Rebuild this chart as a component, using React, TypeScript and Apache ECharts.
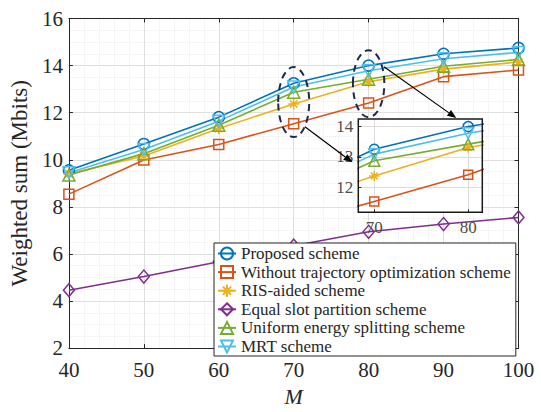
import React, { useEffect, useRef } from 'react';
import * as echarts from 'echarts';

// ---- data ----
const mValues = [40, 50, 60, 70, 80, 90, 100];
const proposed = [9.55, 10.67, 11.81, 13.25, 14.0, 14.5, 14.75];
const withoutTraj = [8.54, 9.99, 10.65, 11.53, 12.41, 13.53, 13.81];
const risAided = [9.4, 10.16, 11.33, 12.37, 13.31, 13.85, 14.15];
const equalSlot = [4.46, 5.04, 5.67, 6.35, 6.94, 7.27, 7.55];
const uniformEnergy = [9.35, 10.26, 11.47, 12.87, 13.42, 13.97, 14.26];
const mrt = [9.45, 10.44, 11.64, 13.09, 13.78, 14.29, 14.56];

const seriesNames = [
  'Proposed scheme',
  'Without trajectory optimization scheme',
  'RIS-aided scheme',
  'Equal slot partition scheme',
  'Uniform energy splitting scheme',
  'MRT scheme',
];

const xTicks = { min: 40, max: 100, interval: 10 };
const yTicks = { min: 2, max: 16, interval: 2 };
const insetX = { min: 68.3, max: 81.5, labels: [70, 80] };
const insetY = { min: 11.17, max: 14.25, labels: [12, 13, 14] };

// annotations (data coords)
const ellipses = [
  { x: 70, y: 12.45, rx: 15.5, ry: 35 },
  { x: 80, y: 13.23, rx: 15.7, ry: 33.5 },
];
const arrows = [
  { from: [71.5, 11.4], to: [77.85, 9.89] },
  { from: [82.05, 13.95], to: [91.7, 11.77] },
];

const COLORS = ['#0072BD', '#D95319', '#EDB120', '#7E2F8E', '#77AC30', '#4DBEEE'];
const ASTERISK = 'path://M5,0L5,10M0,5L10,5M1.6,1.6L8.4,8.4M1.6,8.4L8.4,1.6';
const SYMBOLS: any[] = [
  { symbol: 'circle', size: 11, rotate: 0 },
  { symbol: 'rect', size: 10, rotate: 0 },
  { symbol: ASTERISK, size: 11, rotate: 0 },
  { symbol: 'diamond', size: [11, 13], rotate: 0 },
  { symbol: 'triangle', size: 12, rotate: 0 },
  { symbol: 'triangle', size: 12, rotate: 180 },
];
const allValues = [proposed, withoutTraj, risAided, equalSlot, uniformEnergy, mrt];

const FONT = 'Liberation Serif';
const TXT = '#262626';

function makeSeries(i: number, inset: boolean) {
  const s = SYMBOLS[i];
  const c = COLORS[i];
  return {
    type: 'line',
    name: seriesNames[i],
    xAxisIndex: inset ? 2 : 0,
    yAxisIndex: inset ? 2 : 0,
    data: mValues.map((m, k) => [m, allValues[i][k]]),
    symbol: s.symbol,
    symbolSize: inset ? (Array.isArray(s.size) ? [10, 12] : s.size - 1) : s.size,
    symbolRotate: s.rotate,
    showAllSymbol: true,
    clip: true,
    z: inset ? 6 : 2,
    lineStyle: { color: c, width: 1.6 },
    itemStyle: { color: 'none', borderColor: c, borderWidth: 1.5 },
    emphasis: { disabled: true },
  };
}

export default function App() {
  const ref = useRef<HTMLDivElement>(null);
  useEffect(() => {
    if (!ref.current) return;
    const chart = echarts.init(ref.current, undefined, { renderer: 'svg' });
    const mainGrid = { left: 66.7, right: 22.5, top: 18.5, bottom: 54 };
    const insetGrid = { left: 358.3, top: 119, width: 124, height: 93.3 };
    const series: any[] = [];
    for (let i = 0; i < 6; i++) series.push(makeSeries(i, false));
    for (let i = 0; i < 6; i++) {
      if (i === 3) continue;
      series.push(makeSeries(i, true));
    }
    const firstInset = series[6];
    firstInset.markLine = {
      silent: true,
      symbol: 'none',
      z: 5,
      label: { show: false },
      lineStyle: { color: '#dcdcdc', type: 'solid', width: 1 },
      data: [
        ...insetX.labels.map((v) => ({ xAxis: v })),
        ...insetY.labels.map((v) => ({ yAxis: v })),
      ],
    };

    const option: any = {
      animation: false,
      backgroundColor: '#ffffff',
      textStyle: { fontFamily: FONT },
      grid: [
        { ...mainGrid, containLabel: false },
        { ...insetGrid, containLabel: false },
      ],
      legend: {
        data: seriesNames,
        orient: 'vertical',
        left: 214,
        top: 243,
        z: 20,
        itemWidth: 18,
        itemHeight: 15,
        itemGap: 1.6,
        padding: [2, 5, 1, 3],
        backgroundColor: '#ffffff',
        borderColor: '#262626',
        borderWidth: 1,
        borderRadius: 0,
        selectedMode: false,
        textStyle: { fontFamily: FONT, fontSize: 17, color: TXT, lineHeight: 15 },
      },
      xAxis: [
        {
          type: 'value', gridIndex: 0, ...xTicks,
          name: 'M', nameLocation: 'middle', nameGap: 31,
          nameTextStyle: { fontFamily: FONT, fontSize: 22, fontStyle: 'italic', color: TXT },
          axisLine: { show: true, onZero: false, lineStyle: { color: TXT, width: 1 } },
          axisTick: { show: true, inside: true, length: 4, lineStyle: { color: TXT } },
          axisLabel: { fontFamily: FONT, fontSize: 21, color: TXT, margin: 11 },
          splitLine: { show: true, lineStyle: { color: '#dfdfdf', width: 1 } },
          minorTick: { show: false, splitNumber: 5 },
          minorSplitLine: { show: true, lineStyle: { color: '#ececec', width: 1, type: 'dotted' } },
        },
        {
          type: 'value', gridIndex: 0, ...xTicks, position: 'top',
          axisLine: { show: true, onZero: false, lineStyle: { color: TXT, width: 1 } },
          axisTick: { show: true, inside: true, length: 4, lineStyle: { color: TXT } },
          axisLabel: { show: false },
          splitLine: { show: false },
        },
        {
          type: 'value', gridIndex: 1, min: insetX.min, max: insetX.max, z: 7,
          axisLine: { show: false },
          axisTick: { show: true, inside: true, length: 3, customValues: insetX.labels, lineStyle: { color: TXT } },
          axisLabel: { fontFamily: FONT, fontSize: 17, color: '#4d4d4d', margin: 7, customValues: insetX.labels },
          splitLine: { show: false },
        },
      ],
      yAxis: [
        {
          type: 'value', gridIndex: 0, ...yTicks,
          name: 'Weighted sum (Mbits)', nameLocation: 'middle', nameGap: 29,
          nameTextStyle: { fontFamily: FONT, fontSize: 23, color: TXT },
          axisLine: { show: true, onZero: false, lineStyle: { color: TXT, width: 1 } },
          axisTick: { show: true, inside: true, length: 4, lineStyle: { color: TXT } },
          axisLabel: { fontFamily: FONT, fontSize: 21, color: TXT, margin: 6 },
          splitLine: { show: true, lineStyle: { color: '#dfdfdf', width: 1 } },
          minorTick: { show: false, splitNumber: 4 },
          minorSplitLine: { show: true, lineStyle: { color: '#ececec', width: 1, type: 'dotted' } },
        },
        {
          type: 'value', gridIndex: 0, ...yTicks, position: 'right',
          axisLine: { show: true, onZero: false, lineStyle: { color: TXT, width: 1 } },
          axisTick: { show: true, inside: true, length: 4, lineStyle: { color: TXT } },
          axisLabel: { show: false },
          splitLine: { show: false },
        },
        {
          type: 'value', gridIndex: 1, min: insetY.min, max: insetY.max, z: 7,
          axisLine: { show: false },
          axisTick: { show: true, inside: true, length: 3, customValues: insetY.labels, lineStyle: { color: TXT } },
          axisLabel: { fontFamily: FONT, fontSize: 17, color: '#4d4d4d', margin: 5, customValues: insetY.labels },
          splitLine: { show: false },
        },
      ],
      series,
    };
    chart.setOption(option);

    const toPx = (p: number[]) => chart.convertToPixel({ xAxisIndex: 0, yAxisIndex: 0 }, p) as number[];
    const toPxInset = (p: number[]) => chart.convertToPixel({ xAxisIndex: 2, yAxisIndex: 2 }, p) as number[];
    const tl = toPxInset([insetX.min, insetY.max]);
    const br = toPxInset([insetX.max, insetY.min]);
    const graphics: any[] = [];
    graphics.push({
      type: 'rect', z: 4, silent: true,
      shape: { x: tl[0], y: tl[1], width: br[0] - tl[0], height: br[1] - tl[1] },
      style: { fill: '#ffffff', stroke: 'none' },
    });
    graphics.push({
      type: 'rect', z: 8, silent: true,
      shape: { x: tl[0], y: tl[1], width: br[0] - tl[0], height: br[1] - tl[1] },
      style: { fill: 'none', stroke: '#1a1a1a', lineWidth: 1.5 },
    });
    ellipses.forEach((e) => {
      const c = toPx([e.x, e.y]);
      graphics.push({
        type: 'ellipse', z: 9, silent: true,
        shape: { cx: c[0], cy: c[1], rx: e.rx, ry: e.ry },
        style: { fill: 'none', stroke: '#1c2b4a', lineWidth: 2, lineDash: [7, 5] },
      });
    });
    arrows.forEach((a) => {
      const p1 = toPx(a.from);
      const p2 = toPx(a.to);
      const dx = p2[0] - p1[0];
      const dy = p2[1] - p1[1];
      const len = Math.sqrt(dx * dx + dy * dy);
      const ux = dx / len, uy = dy / len;
      const hl = 9, hw = 3.5;
      const bx = p2[0] - ux * hl, by = p2[1] - uy * hl;
      graphics.push({
        type: 'line', z: 9, silent: true,
        shape: { x1: p1[0], y1: p1[1], x2: bx, y2: by },
        style: { stroke: '#000', lineWidth: 1.2 },
      });
      graphics.push({
        type: 'polygon', z: 9, silent: true,
        shape: { points: [[p2[0], p2[1]], [bx - uy * hw, by + ux * hw], [bx + uy * hw, by - ux * hw]] },
        style: { fill: '#000', stroke: 'none' },
      });
    });
    chart.setOption({ graphic: { elements: graphics } });
    return () => chart.dispose();
  }, []);
  return <div ref={ref} style={{ position: 'absolute', left: 0, top: 0, width: 541, height: 412 }} />;
}
